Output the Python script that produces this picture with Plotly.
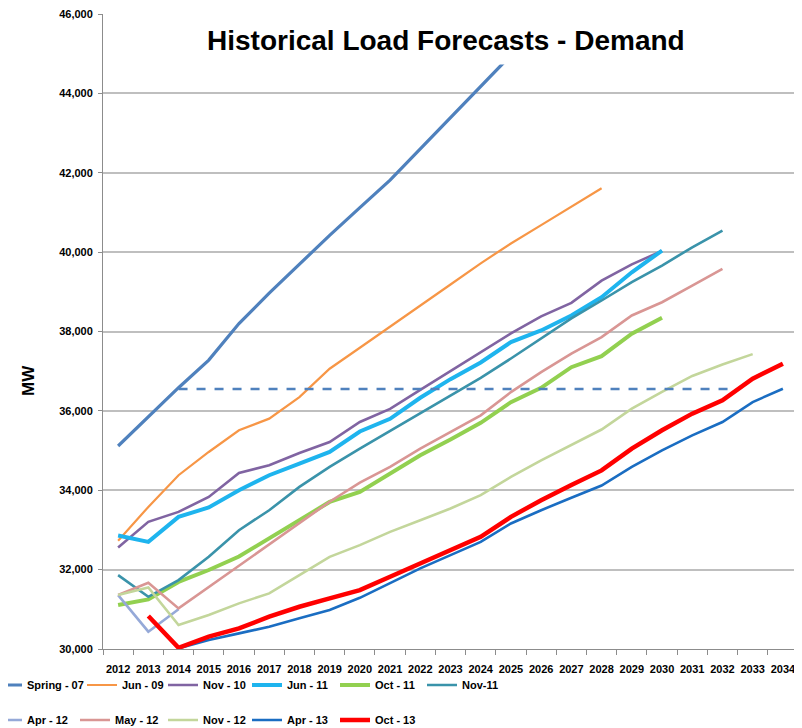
import plotly.graph_objects as go

YEARS = list(range(2012, 2035))
TICK_LABELS = [str(y) for y in YEARS]

SERIES_NAMES = ["Spring - 07", "Jun - 09", "Nov - 10", "Jun - 11", "Oct - 11", "Nov-11",
                "Apr - 12", "May - 12", "Nov - 12", "Apr - 13", "Oct - 13"]

# values by year (first year given per series)
SPRING_07_START = 2012
SPRING_07 = [35115, 35845, 36584, 37280, 38200, 38965, 39704, 40424, 41121, 41815,
             42600, 43388, 44180, 44965, 45750]
JUN_09_START = 2012
JUN_09 = [32725, 33580, 34378, 34964, 35510, 35804, 36348, 37062, 37590, 38116,
          38650, 39184, 39718, 40218, 40681, 41144, 41610]
NOV_10_START = 2012
NOV_10 = [32559, 33203, 33455, 33832, 34436, 34630, 34939, 35216, 35720, 36050,
          36530, 37000, 37481, 37950, 38380, 38720, 39280, 39690, 40030]
JUN_11_START = 2012
JUN_11 = [32861, 32700, 33329, 33565, 34000, 34378, 34672, 34964, 35480, 35800,
          36330, 36800, 37220, 37732, 38026, 38403, 38864, 39493, 40039]
OCT_11_START = 2012
OCT_11 = [31107, 31250, 31690, 31990, 32330, 32785, 33246, 33706, 33960, 34420,
          34881, 35280, 35700, 36220, 36580, 37100, 37380, 37943, 38345]
NOV_11_START = 2012
NOV_11 = [31862, 31316, 31736, 32323, 32994, 33497, 34084, 34587, 35050, 35500,
          35950, 36380, 36830, 37320, 37820, 38330, 38781, 39242, 39661, 40122, 40542]
APR_12_START = 2012
APR_12 = [31359, 30436, 31000]
MAY_12_START = 2012
MAY_12 = [31359, 31669, 31023, 31560, 32100, 32640, 33170, 33710, 34190, 34587,
          35050, 35467, 35888, 36474, 36978, 37440, 37858, 38403, 38738, 39158, 39578]
NOV_12_START = 2012
NOV_12 = [31359, 31552, 30604, 30855, 31150, 31401, 31862, 32323, 32617, 32951,
          33246, 33540, 33875, 34336, 34755, 35150, 35530, 36056, 36480, 36880,
          37170, 37430]
APR_13_START = 2014
APR_13 = [30017, 30226, 30394, 30561, 30772, 30981, 31290, 31652, 32030, 32365,
          32700, 33163, 33497, 33810, 34120, 34587, 35007, 35384, 35719, 36222, 36559]
OCT_13_START = 2013
OCT_13 = [30830, 30030, 30310, 30520, 30813, 31064, 31275, 31484, 31819, 32156,
          32491, 32826, 33329, 33749, 34130, 34500, 35050, 35510, 35930, 36265,
          36811, 37188]

THRESHOLD_MW = 36550
THRESHOLD_YEARS = [2014, 2032.3]

series = [
    (SERIES_NAMES[0], SPRING_07_START, SPRING_07, "#4F81BD", 3.2),
    (SERIES_NAMES[1], JUN_09_START, JUN_09, "#F79646", 2.2),
    (SERIES_NAMES[2], NOV_10_START, NOV_10, "#8064A2", 2.6),
    (SERIES_NAMES[3], JUN_11_START, JUN_11, "#1EB4EE", 4.0),
    (SERIES_NAMES[4], OCT_11_START, OCT_11, "#92D050", 4.0),
    (SERIES_NAMES[5], NOV_11_START, NOV_11, "#3A93AA", 2.6),
    (SERIES_NAMES[6], APR_12_START, APR_12, "#95A9D8", 2.6),
    (SERIES_NAMES[7], MAY_12_START, MAY_12, "#D99694", 2.6),
    (SERIES_NAMES[8], NOV_12_START, NOV_12, "#C3D69B", 2.6),
    (SERIES_NAMES[9], APR_13_START, APR_13, "#1A6DC2", 2.6),
    (SERIES_NAMES[10], OCT_13_START, OCT_13, "#FF0000", 4.5),
]
# legend column spacing (px) per entry
LEGEND_WIDTHS = [50, 36, 39, 43, 42, 40, 43, 43, 39, 43, 40]

SANS = "Liberation Sans, Arial"
LEG_FONT = dict(family=SANS, size=11, color="black", weight="bold")

fig = go.Figure()
for i, (name, start, vals, color, width) in enumerate(series):
    xs = [start + k for k in range(len(vals))]
    fig.add_trace(go.Scatter(
        x=xs, y=vals, mode="lines", name=name,
        line=dict(color=color, width=width),
        legend="legend" if i < 6 else "legend2",
        legendwidth=LEGEND_WIDTHS[i],
        hoverinfo="skip",
    ))

fig.add_trace(go.Scatter(
    x=THRESHOLD_YEARS, y=[THRESHOLD_MW] * len(THRESHOLD_YEARS), mode="lines",
    line=dict(color="#4F81BD", width=2.6, dash="dash"), showlegend=False,
    hoverinfo="skip",
))

boundaries = [y - 0.5 for y in YEARS] + [YEARS[-1] + 0.5]

fig.update_layout(
    width=794, height=720,
    margin=dict(l=95, r=4, t=6, b=79, autoexpand=False),
    paper_bgcolor="white", plot_bgcolor="white",
    font=dict(family=SANS, color="black"),
    xaxis=dict(
        range=[2011.5, 2034.5], tickmode="array", tickvals=YEARS, ticktext=TICK_LABELS,
        ticks="", showgrid=False, zeroline=False,
        showline=True, linecolor="#8C8C8C", linewidth=1,
        tickfont=dict(family=SANS, size=11, color="black", weight="bold"),
        ticklabelstandoff=10,
        minor=dict(tickmode="array", tickvals=boundaries, ticks="outside",
                   ticklen=5, tickcolor="#8C8C8C", tickwidth=1, showgrid=False),
    ),
    yaxis=dict(
        range=[30000, 46000], dtick=2000, tick0=30000, tickformat=",",
        showgrid=True, gridcolor="#BFBFBF", gridwidth=1.5, zeroline=False,
        showline=True, linecolor="#8C8C8C", linewidth=1,
        ticks="outside", ticklen=4, tickcolor="#8C8C8C",
        ticklabelstandoff=3, ticklabeloverflow="allow",
        tickfont=dict(family=SANS, size=11, color="black", weight="bold"),
    ),
    legend=dict(orientation="h", x=-0.1669, xanchor="left", y=-0.0567, yanchor="middle",
                entrywidthmode="pixels", font=LEG_FONT,
                bgcolor="rgba(0,0,0,0)", itemwidth=30, traceorder="normal"),
    legend2=dict(orientation="h", x=-0.1669, xanchor="left", y=-0.1118, yanchor="middle",
                 entrywidthmode="pixels", font=LEG_FONT,
                 bgcolor="rgba(0,0,0,0)", itemwidth=30, traceorder="normal"),
    annotations=[
        dict(text="<b>Historical Load Forecasts - Demand</b>", xref="paper", yref="paper",
             x=0.4938, y=0.959, xanchor="center", yanchor="middle", showarrow=False,
             font=dict(family=SANS, size=28, color="black"),
             bgcolor="white", borderpad=8),
        dict(text="<b>MW</b>", xref="paper", yref="paper", x=-0.108, y=0.4236,
             xanchor="center", yanchor="middle", showarrow=False, textangle=-90,
             font=dict(family=SANS, size=17, color="black")),
    ],
)

fig.write_html("out.html")
